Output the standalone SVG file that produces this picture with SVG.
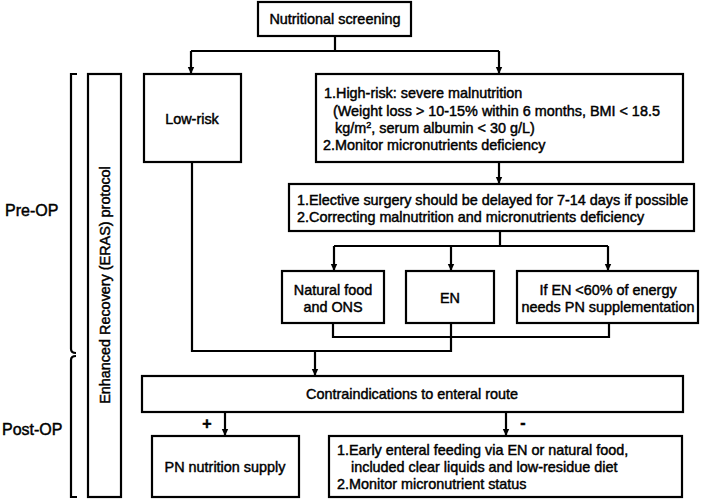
<svg xmlns="http://www.w3.org/2000/svg" width="709" height="501" viewBox="0 0 709 501">
<defs>
<marker id="ah" markerWidth="8" markerHeight="8" refX="7" refY="4" orient="auto" markerUnits="userSpaceOnUse">
<path d="M0,0.8 L7,4 L0,7.2 Z" fill="#000"/>
</marker>
</defs>
<style>
.box{fill:#fff;stroke:#000;stroke-width:2.2}
.ln{fill:none;stroke:#000;stroke-width:2.2}
.ar{fill:none;stroke:#000;stroke-width:2.2;marker-end:url(#ah)}
text{font-family:"Liberation Sans",Arial,sans-serif;font-size:14.4px;fill:#000;stroke:#000;stroke-width:0.45}
.c{text-anchor:middle}
.big{font-size:16px}
.sign{font-size:16px;font-weight:bold}
</style>
<rect width="709" height="501" fill="#fff"/>
<g id="connectors">
<path class="ln" d="M335,36 V51 M191,51 H499"/>
<path class="ar" d="M191,51 V74"/>
<path class="ar" d="M499,51 V74"/>
<path class="ar" d="M499,162 V184"/>
<path class="ln" d="M500,231 V246 M334,246 H608"/>
<path class="ar" d="M334,246 V271"/>
<path class="ar" d="M451,246 V271"/>
<path class="ar" d="M608,246 V271"/>
<path class="ln" d="M333,323 V337 H609 V323 M451,323 V351 H192 V162"/>
<path class="ar" d="M315,351 V376"/>
<path class="ar" d="M225,412 V436"/>
<path class="ar" d="M506,412 V436"/>
<path class="ln" d="M77,74 H71 V349 Q71,353 76,353 M76,356 Q71,356 71,360 V497 H77"/>
</g>
<g id="screening"><rect class="box" x="258" y="2" width="153" height="34"/><text class="c" x="335" y="24">Nutritional screening</text></g>
<g id="lowrisk"><rect class="box" x="144" y="74" width="97" height="88"/><text class="c" x="192" y="124">Low-risk</text></g>
<g id="highrisk"><rect class="box" x="316" y="74" width="367" height="88"/>
<text x="324" y="98">1.High-risk: severe malnutrition</text>
<text x="333" y="116">(Weight loss &gt; 10-15% within 6 months, BMI &lt; 18.5</text>
<text x="335" y="133">kg/m<tspan font-size="9" dy="-5">2</tspan><tspan dy="5">, serum albumin &lt; 30 g/L)</tspan></text>
<text x="323" y="150">2.Monitor micronutrients deficiency</text>
</g>
<g id="elective"><rect class="box" x="289" y="184" width="405" height="47"/>
<text x="297" y="205">1.Elective surgery should be delayed for 7-14 days if possible</text>
<text x="297" y="222">2.Correcting malnutrition and micronutrients deficiency</text>
</g>
<g id="natural"><rect class="box" x="282" y="271" width="102" height="52"/><text class="c" x="333" y="295">Natural food</text><text class="c" x="333" y="312">and ONS</text></g>
<g id="en"><rect class="box" x="406" y="271" width="88" height="52"/><text class="c" x="450" y="303">EN</text></g>
<g id="pnsupp"><rect class="box" x="517" y="271" width="181" height="52"/><text class="c" x="608" y="295">If EN &lt;60% of energy</text><text class="c" x="608" y="312">needs PN supplementation</text></g>
<g id="eras"><rect class="box" x="88" y="74" width="33" height="423"/><text class="c" transform="translate(110,285) rotate(-90)">Enhanced Recovery (ERAS) protocol</text></g>
<g id="contra"><rect class="box" x="142" y="376" width="541" height="36"/><text class="c" x="412" y="399">Contraindications to enteral route</text></g>
<g id="labels"><text class="c sign" x="207" y="429">+</text><text class="c sign" x="523" y="428">-</text>
<text class="big" x="5" y="216">Pre-OP</text><text class="big" x="2" y="435">Post-OP</text></g>
<g id="pn"><rect class="box" x="152" y="436" width="147" height="61"/><text class="c" x="225" y="472">PN nutrition supply</text></g>
<g id="early"><rect class="box" x="329" y="436" width="353" height="61"/>
<text x="337" y="455">1.Early enteral feeding via EN or natural food,</text>
<text x="351" y="472">included clear liquids and low-residue diet</text>
<text x="337" y="489">2.Monitor micronutrient status</text>
</g>
</svg>
